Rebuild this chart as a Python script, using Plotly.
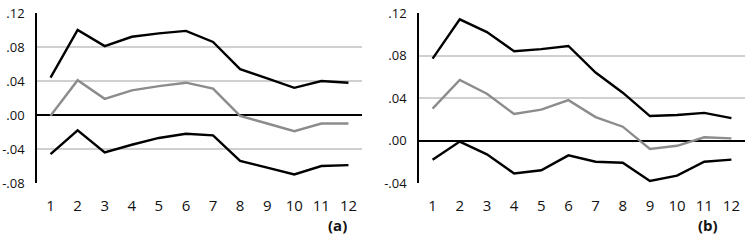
import plotly.graph_objects as go

periods = [1, 2, 3, 4, 5, 6, 7, 8, 9, 10, 11, 12]

a_upper = [0.044, 0.100, 0.081, 0.092, 0.096, 0.099, 0.086, 0.054, 0.043, 0.032, 0.040, 0.038]
a_mid = [-0.001, 0.041, 0.019, 0.029, 0.034, 0.038, 0.031, -0.001, -0.010, -0.019, -0.010, -0.010]
a_lower = [-0.046, -0.018, -0.044, -0.035, -0.027, -0.022, -0.024, -0.054, -0.062, -0.070, -0.060, -0.059]

b_upper = [0.077, 0.114, 0.102, 0.084, 0.086, 0.089, 0.064, 0.045, 0.023, 0.024, 0.026, 0.021]
b_mid = [0.030, 0.057, 0.044, 0.025, 0.029, 0.038, 0.022, 0.013, -0.008, -0.005, 0.003, 0.002]
b_lower = [-0.018, -0.001, -0.013, -0.031, -0.028, -0.014, -0.020, -0.021, -0.038, -0.033, -0.020, -0.018]

a_ticks = [0.12, 0.08, 0.04, 0.0, -0.04, -0.08]
a_ticktext = [".12", ".08", ".04", ".00", "-.04", "-.08"]
b_ticks = [0.12, 0.08, 0.04, 0.0, -0.04]
b_ticktext = [".12", ".08", ".04", ".00", "-.04"]

panel_labels = ["(a)", "(b)"]

BLACK = "#000000"
GRAY = "#8c8c8c"
FONT = "Open Sans"

fig = go.Figure()

def add_panel(xa, ya, upper, mid, lower):
    for vals, col in [(mid, GRAY), (upper, BLACK), (lower, BLACK)]:
        fig.add_trace(go.Scatter(x=periods, y=vals, mode="lines",
                                 line=dict(color=col, width=2.4),
                                 xaxis=xa, yaxis=ya, showlegend=False,
                                 hoverinfo="skip"))

add_panel("x", "y", a_upper, a_mid, a_lower)
add_panel("x2", "y2", b_upper, b_mid, b_lower)

H = 251.0
W = 750.0
ydom = [1 - 183 / H, 1 - 13 / H]

xcommon = dict(range=[0.5, 12.5], tickvals=periods, ticktext=[str(p) for p in periods],
               showgrid=False, zeroline=False, showline=False, automargin=False,
               ticks="outside", ticklen=9, tickcolor="rgba(0,0,0,0)",
               tickfont=dict(family=FONT, size=15, color="#111"))
ycommon = dict(showgrid=True, gridcolor="#d0d0d0", gridwidth=1.5,
               zeroline=True, zerolinecolor=BLACK, zerolinewidth=1.6,
               showline=True, linecolor=BLACK, linewidth=1.5, automargin=False,
               ticks="outside", ticklen=8, tickcolor="rgba(0,0,0,0)",
               tickfont=dict(family=FONT, size=13, color="#111"))

fig.update_layout(
    width=750, height=251,
    margin=dict(l=0, r=0, t=0, b=0),
    paper_bgcolor="white", plot_bgcolor="white",
    xaxis=dict(domain=[37 / W, 362 / W], anchor="y", **xcommon),
    yaxis=dict(domain=ydom, anchor="x", range=[-0.08, 0.12],
               tickvals=a_ticks, ticktext=a_ticktext, **ycommon),
    xaxis2=dict(domain=[419 / W, 745 / W], anchor="y2", **xcommon),
    yaxis2=dict(domain=ydom, anchor="x2", range=[-0.04, 0.12],
                tickvals=b_ticks, ticktext=b_ticktext, **ycommon),
    annotations=[
        dict(text="<b>%s</b>" % panel_labels[0], x=337 / W, y=1 - 237 / H,
             xref="paper", yref="paper", showarrow=False,
             font=dict(family=FONT, size=15, color="#111")),
        dict(text="<b>%s</b>" % panel_labels[1], x=720 / W, y=1 - 237 / H,
             xref="paper", yref="paper", showarrow=False,
             font=dict(family=FONT, size=15, color="#111")),
    ],
)

fig.write_html("out.html", config={"displayModeBar": False},
               post_script="document.body.style.margin='0';document.body.style.padding='0';")
